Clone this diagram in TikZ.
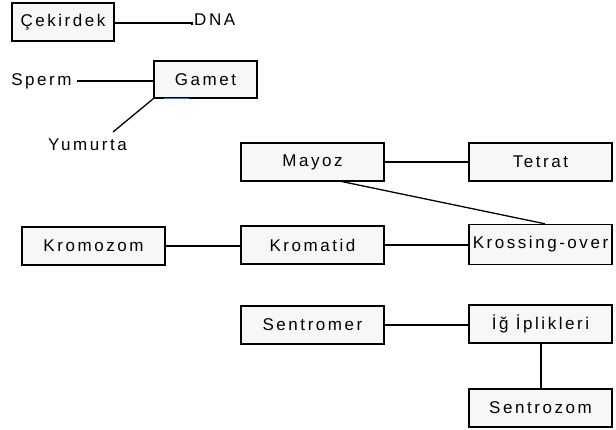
\documentclass[tikz,border=0pt]{standalone}
\usepackage{fontspec}
\setmainfont{Liberation Sans}[LetterSpace=15]
\begin{document}
\begin{tikzpicture}[x=1pt,y=-1pt,
  every node/.style={font=\fontsize{17}{20}\selectfont},
  box/.style={draw, line width=1.4pt, fill=white!97!black, inner sep=0pt,
              minimum width=143pt, minimum height=38pt},
  lbl/.style={inner sep=2pt},
  link/.style={line width=1.3pt}]
\useasboundingbox (0,0) rectangle (616,430);

% boxes
\node[box, minimum width=102pt] (cek) at (63,22) {Çekirdek};
\node[box, minimum width=103pt, minimum height=37pt] (gamet) at (205.5,79.5) {Gamet};
\node[box] (mayoz) at (312.5,162) {Mayoz};
\node[box] (tetrat) at (540.5,162) {Tetrat};
\node[box] (kromozom) at (93.5,246) {Kromozom};
\node[box] (kromatid) at (312.5,245) {Kromatid};
\node[box, minimum height=40pt] (kross) at (540.5,244.5) {Krossing-over};
\node[box] (sentromer) at (312.5,325) {Sentromer};
\node[box] (igg) at (540.5,324) {İğ İplikleri};
\node[box] (sentrozom) at (540.5,408) {Sentrozom};

% free labels
\node[lbl, anchor=west] (dna) at (192,20) {DNA};
\node[lbl] (sperm) at (41.5,81) {Sperm};
\node[lbl] (yumurta) at (87.5,145) {Yumurta};
\coordinate (dnaend) at (192,23);
\coordinate (yumend) at (113,132);

% connectors
\draw[link] (cek.east |- dnaend) -- (dnaend) -- ++(0,2.5);
\draw[link] ([xshift=3pt]sperm.east) -- (sperm.east -| gamet.west);
\draw[link] (gamet.south west) -- (yumend);
\draw[line width=1.4pt, color={rgb,255:red,70;green,110;blue,170}]
  ([xshift=11pt]gamet.south west) -- ([xshift=36pt]gamet.south west);
\draw[link] (mayoz.east) -- (tetrat.west);
\draw[link] ([xshift=30pt]mayoz.south) -- ([xshift=4.5pt]kross.north);
\draw[link] (kromozom.east) -- (kromozom.east -| kromatid.west);
\draw[link] (kromatid.east) -- (kromatid.east -| kross.west);
\draw[link] (sentromer.east) -- (sentromer.east -| igg.west);
\draw[link] ([xshift=0.5pt]igg.south) -- ([xshift=0.5pt]sentrozom.north);
\end{tikzpicture}
\end{document}
